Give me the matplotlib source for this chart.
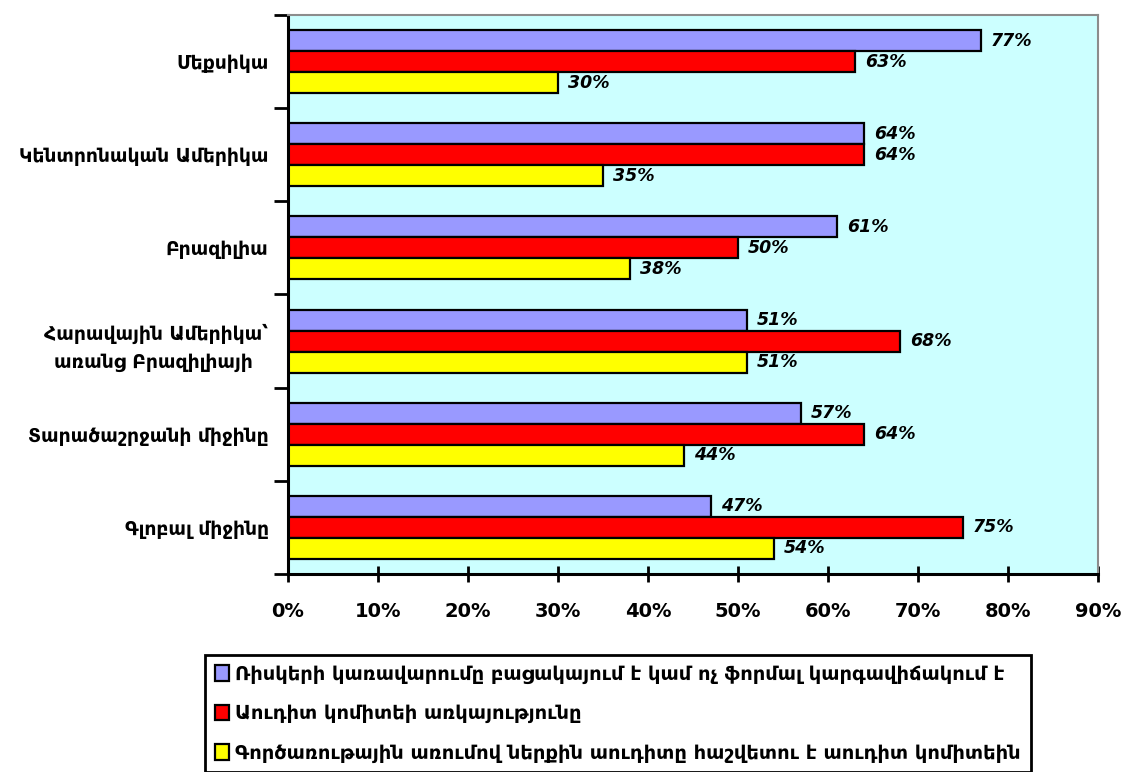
import numpy as np
from matplotlib import pyplot as plt

c_p = "#9999ff"
c_r = "#ff0000"
c_y = "#ffff00"

regions = ["Մեքսիկա", "Կենտրոնական Ամերիկա", "Բրազիլիա",
           "Հարավային Ամերիկա՝\nառանց Բրազիլիայի ", "Տարածաշրջանի միջինը", "Գլոբալ միջինը"]
risk = [77, 64, 61, 51, 57, 47]
committee = [63, 64, 50, 68, 64, 75]
reporting = [30, 35, 38, 51, 44, 54]
series_names = ["Ռիսկերի կառավարումը բացակայում է կամ ոչ ֆորմալ կարգավիճակում է",
                "Աուդիտ կոմիտեի առկայությունը",
                "Գործառութային առումով ներքին աուդիտը հաշվետու է աուդիտ կոմիտեին"]

fig = plt.figure(figsize=(11.24, 7.72), dpi=100)
ax = fig.add_axes([0.2562, 0.2565, 0.7206, 0.7241])
ax.set_facecolor("#ccffff")

y = np.arange(len(regions))
h = 0.225
series = [(risk, c_p, -h), (committee, c_r, 0), (reporting, c_y, h)]
for (vals, col, off), name in zip(series, series_names):
    ax.barh(y + off, vals, height=h, color=col, edgecolor="black", linewidth=1.6, label=name)
    for yi, v in zip(y + off, vals):
        ax.text(v + 1.1, yi, f"{v}%", va="center", ha="left", fontsize=12.5,
                fontweight="bold", fontstyle="italic", family="DejaVu Sans")

ax.set_xlim(0, 90)
ax.set_ylim(len(regions) - 0.5, -0.5)

ax.set_xticks(np.arange(0, 91, 10))
ax.set_xticklabels([f"{v}%" for v in range(0, 91, 10)], fontsize=14, fontweight="bold",
                   family="DejaVu Sans")
ax.tick_params(axis="x", direction="inout", length=12, width=2, pad=14)

ax.set_yticks(y)
ax.set_yticklabels(regions, fontsize=13.5, fontweight="bold", family="DejaVu Sans",
                   multialignment="center", linespacing=1.6)
ax.tick_params(axis="y", which="major", length=0, pad=14)
ax.set_yticks(np.arange(-0.5, len(regions)), minor=True)
ax.tick_params(axis="y", which="minor", direction="out", length=10, width=2)

for s in ["left", "bottom"]:
    ax.spines[s].set_linewidth(2.2)
    ax.spines[s].set_color("black")
for s in ["top", "right"]:
    ax.spines[s].set_linewidth(1.5)
    ax.spines[s].set_color("#8c8c8c")

leg = fig.legend(loc="upper left", bbox_to_anchor=(0.1824, 0.1516),
                 prop={"family": "DejaVu Sans", "weight": "bold", "size": 14},
                 frameon=True, fancybox=False, edgecolor="black", borderpad=0.5,
                 labelspacing=1.05, handlelength=0.75, handleheight=0.85, handletextpad=0.3,
                 borderaxespad=0)
leg.get_frame().set_linewidth(2)
leg.get_frame().set_alpha(1)

plt.savefig("out.png")
